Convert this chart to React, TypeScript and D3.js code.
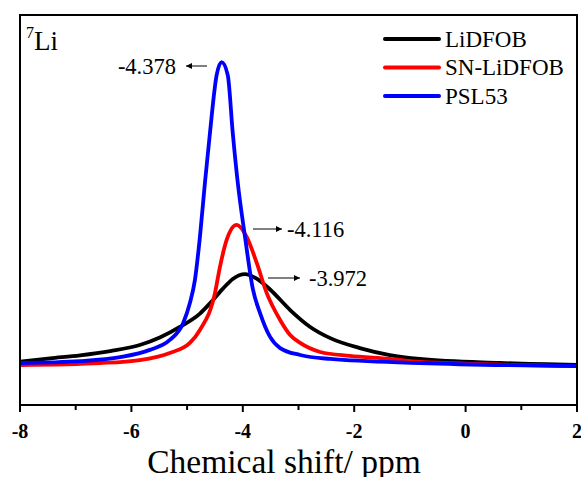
import { useEffect, useRef } from 'react';
import * as d3 from 'd3';

// chemical shift (ppm) / intensity (a.u.)
const lidfob: [number, number][] = [
  [-8.0, 1.1], [-7.46, 2.2], [-6.92, 3.2], [-6.38, 4.6], [-5.85, 6.6],
  [-5.49, 9.1], [-5.13, 12.6], [-4.77, 17.0], [-4.59, 20.4], [-4.36, 25.2],
  [-4.18, 28.5], [-3.96, 30.1], [-3.745, 28.5], [-3.51, 25.0], [-3.15, 18.2],
  [-2.79, 12.6], [-2.43, 8.9], [-1.9, 5.6], [-1.36, 3.3], [-0.82, 2.0],
  [0.62, 0.66], [2.0, 0.0],
];
const snLidfob: [number, number][] = [
  [-8.0, 0.0], [-6.56, 0.66], [-5.85, 1.65], [-5.31, 4.0], [-4.95, 7.3],
  [-4.77, 11.6], [-4.5, 23.8], [-4.41, 32.5], [-4.29, 41.4], [-4.11, 46.4],
  [-3.93, 42.4], [-3.75, 33.8], [-3.57, 23.8], [-3.33, 14.9], [-3.15, 9.9],
  [-2.97, 7.3], [-2.61, 4.3], [-2.08, 3.0], [-1.36, 2.0], [-0.82, 1.0],
  [2.0, -0.33],
];
const psl53: [number, number][] = [
  [-8.0, 0.66], [-6.92, 1.3], [-6.2, 2.6], [-5.67, 5.0], [-5.31, 8.3],
  [-5.07, 13.9], [-4.95, 20.5], [-4.86, 28.1], [-4.77, 42.4], [-4.68, 60.3],
  [-4.59, 76.8], [-4.47, 96.0], [-4.38, 100.3], [-4.27, 96.0], [-4.18, 76.8],
  [-4.09, 60.3], [-3.96, 42.4], [-3.82, 25.2], [-3.69, 17.2], [-3.51, 9.3],
  [-3.33, 5.6], [-2.97, 3.3], [-2.43, 2.0], [-0.82, 0.66], [2.0, -0.33],
];

const seriesNames = ['LiDFOB', 'SN-LiDFOB', 'PSL53'];
const seriesColors = ['#000000', '#ff0000', '#0000ff'];
const peakLabels = ['-3.972', '-4.116', '-4.378'];
const xTicks = [-8, -6, -4, -2, 0, 2];
const xMinorTicks = [-7, -5, -3, -1, 1];

const App = () => {
  const svgRef = useRef<SVGSVGElement>(null);

  useEffect(() => {
    const svg = d3.select(svgRef.current);
    svg.selectAll('*').remove();

    const left = 20, right = 577, top = 15, bottom = 405;
    const font = '"Liberation Serif", "Times New Roman", serif';

    const x = d3.scaleLinear().domain([-8, 2]).range([left, right]);
    const y = d3.scaleLinear().domain([-13.25, 115.9]).range([bottom, top]);

    const line = d3
      .line<[number, number]>()
      .x((d) => x(d[0]))
      .y((d) => y(d[1]))
      .curve(d3.curveMonotoneX);

    const data = [lidfob, snLidfob, psl53];

    const clip = svg.append('clipPath').attr('id', 'plot-clip');
    clip.append('rect').attr('x', left).attr('y', top).attr('width', right - left).attr('height', bottom - top);

    // spectra
    const g = svg.append('g').attr('clip-path', 'url(#plot-clip)');
    data.forEach((d, i) => {
      g.append('path')
        .datum(d)
        .attr('fill', 'none')
        .attr('stroke', seriesColors[i])
        .attr('stroke-width', 3.8)
        .attr('stroke-linejoin', 'round')
        .attr('d', line);
    });

    // frame
    svg
      .append('rect')
      .attr('x', left)
      .attr('y', top)
      .attr('width', right - left)
      .attr('height', bottom - top)
      .attr('fill', 'none')
      .attr('stroke', '#000')
      .attr('stroke-width', 2);

    // bottom axis
    const axis = svg.append('g').attr('transform', `translate(0,${bottom})`);
    axis
      .selectAll('line.major')
      .data(xTicks)
      .enter()
      .append('line')
      .attr('x1', (d) => x(d))
      .attr('x2', (d) => x(d))
      .attr('y1', 0)
      .attr('y2', 7)
      .attr('stroke', '#000')
      .attr('stroke-width', 2);
    axis
      .selectAll('line.minor')
      .data(xMinorTicks)
      .enter()
      .append('line')
      .attr('x1', (d) => x(d))
      .attr('x2', (d) => x(d))
      .attr('y1', 0)
      .attr('y2', 5)
      .attr('stroke', '#000')
      .attr('stroke-width', 2);
    axis
      .selectAll('text')
      .data(xTicks)
      .enter()
      .append('text')
      .attr('x', (d) => x(d))
      .attr('y', 33)
      .attr('text-anchor', 'middle')
      .style('font-family', font)
      .style('font-weight', 'bold')
      .style('font-size', '20px')
      .text((d) => d);

    svg
      .append('text')
      .attr('x', 284)
      .attr('y', 472.5)
      .attr('text-anchor', 'middle')
      .style('font-family', font)
      .style('font-size', '33.5px')
      .text('Chemical shift/ ppm');

    // nucleus label
    const nuc = svg
      .append('text')
      .attr('x', 26)
      .attr('y', 50)
      .style('font-family', font)
      .style('font-size', '27px');
    nuc.append('tspan').attr('dy', -12).style('font-size', '16px').text('7');
    nuc.append('tspan').attr('dy', 12).text('Li');

    // legend
    seriesNames.forEach((name, i) => {
      const ly = 39 + i * 28.5;
      svg
        .append('line')
        .attr('x1', 385)
        .attr('x2', 439)
        .attr('y1', ly)
        .attr('y2', ly)
        .attr('stroke', seriesColors[i])
        .attr('stroke-width', 4)
        .attr('stroke-linecap', 'round');
      svg
        .append('text')
        .attr('x', 445)
        .attr('y', ly + 7.5)
        .style('font-family', font)
        .style('font-size', '23px')
        .text(name);
    });

    // peak annotations
    const defs = svg.append('defs');
    defs
      .append('marker')
      .attr('id', 'arrow')
      .attr('viewBox', '0 0 10 10')
      .attr('refX', 10)
      .attr('refY', 5)
      .attr('markerWidth', 9)
      .attr('markerHeight', 6)
      .attr('markerUnits', 'userSpaceOnUse')
      .attr('orient', 'auto')
      .append('path')
      .attr('d', 'M0,0 L10,5 L0,10 z')
      .attr('fill', '#000');

    const annotations = [
      { x1: 268, x2: 300, y: 278, tx: 309, anchor: 'start' },
      { x1: 253, x2: 282, y: 229, tx: 287, anchor: 'start' },
      { x1: 207, x2: 186, y: 66, tx: 176, anchor: 'end' },
    ];
    annotations.forEach((a, i) => {
      svg
        .append('line')
        .attr('x1', a.x1)
        .attr('x2', a.x2)
        .attr('y1', a.y)
        .attr('y2', a.y)
        .attr('stroke', '#000')
        .attr('stroke-width', 1)
        .attr('marker-end', 'url(#arrow)');
      svg
        .append('text')
        .attr('x', a.tx)
        .attr('y', a.y + 7.5)
        .attr('text-anchor', a.anchor)
        .style('font-family', font)
        .style('font-size', '22.5px')
        .text(peakLabels[i]);
    });
  }, []);

  return (
    <svg
      ref={svgRef}
      width={581}
      height={477}
      style={{ position: 'absolute', left: 0, top: 0, background: '#fff' }}
    />
  );
};

export default App;
